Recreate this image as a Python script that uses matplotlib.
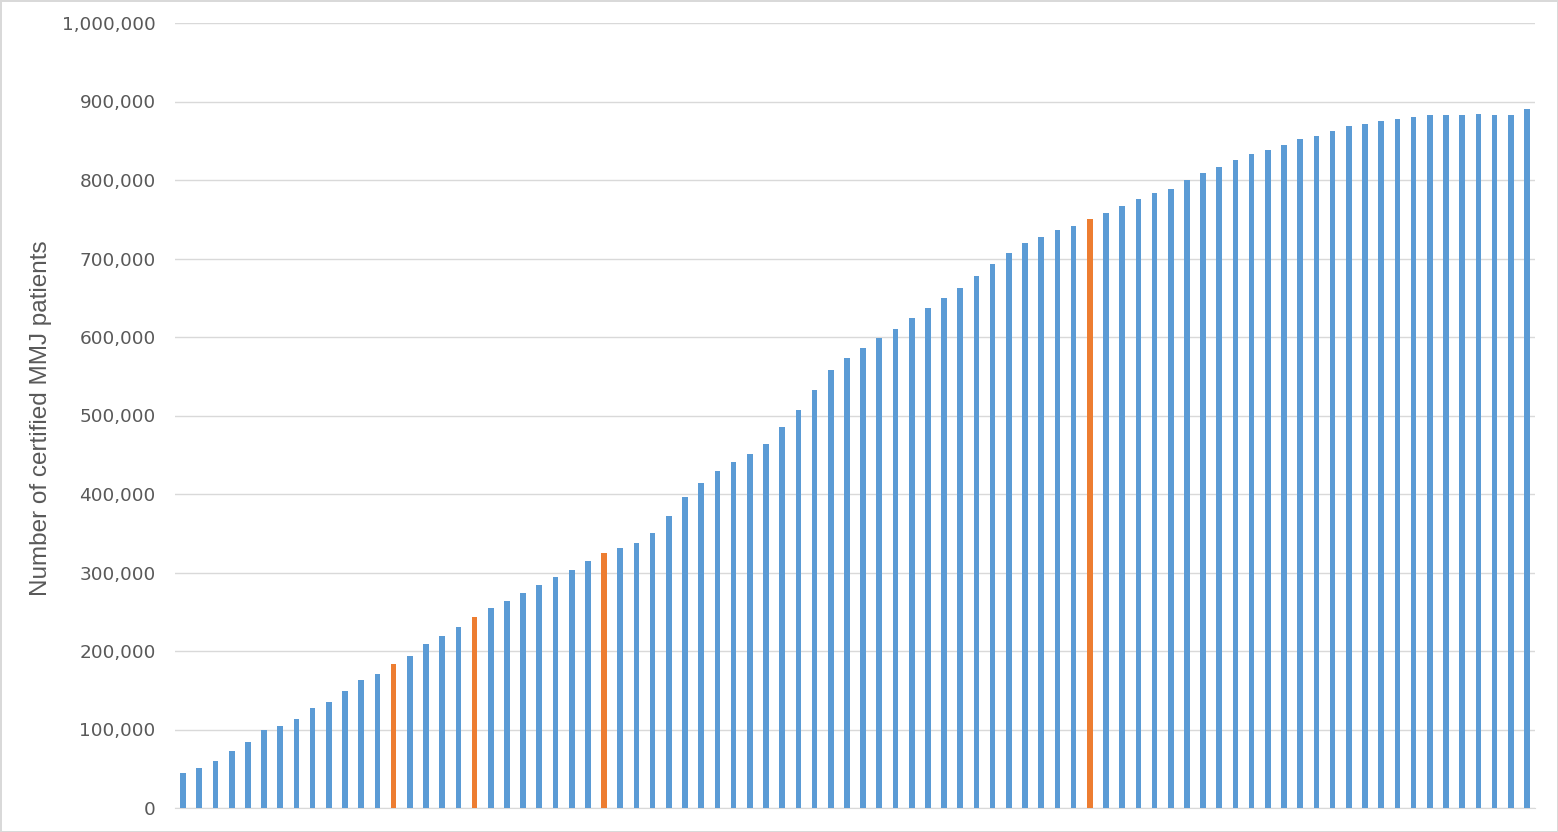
import matplotlib
matplotlib.use("Agg")
import matplotlib.pyplot as plt
from matplotlib.ticker import FuncFormatter

# certified patients per period (thousands)
patients_k = [
    45, 50.5, 60, 72, 84, 99, 104.5, 114, 127, 135.5,
    148.6, 162.6, 170.7, 183, 194, 208.5, 219, 231, 243.3, 254.8,
    264, 274, 283.7, 294.7, 302.8, 314.6, 325.3, 331.6, 338, 350,
    371.6, 395.8, 413.6, 429.7, 441.2, 451, 464, 485.8, 507, 532.5,
    558, 573.6, 586.6, 598.5, 609.8, 623.8, 636.8, 649.7, 662, 678,
    692.6, 706.6, 719.3, 727.8, 735.9, 741.4, 749.9, 758, 766.5, 775.5,
    784, 789, 799.5, 808.3, 816.8, 825.5, 832.7, 838.2, 844.2, 851.8,
    856, 862.4, 868.4, 871.3, 875.2, 877.7, 879.9, 882.4, 882.4, 883.2,
    884.5, 882.4, 883.2, 890.8,
]
highlighted = [13, 18, 26, 56]  # bars drawn in orange

values = [v * 1000 for v in patients_k]
positions = list(range(len(values)))
colors = ["#ED7D31" if i in highlighted else "#5B9BD5" for i in positions]

fig = plt.figure(figsize=(15.58, 8.32), dpi=100)
fig.patch.set_edgecolor("#d9d9d9")
fig.patch.set_linewidth(2)
ax = fig.add_axes([175 / 1558, 1 - 808 / 832, 1360 / 1558, 785 / 832])

ax.bar(positions, values, width=0.35, color=colors, zorder=3)

ax.set_xlim(-0.5, len(values) - 0.5)
ax.set_ylim(0, 1_000_000)
ax.set_yticks(range(0, 1_000_001, 100_000))
ax.yaxis.set_major_formatter(FuncFormatter(lambda v, _: f"{int(v):,}"))
ax.grid(axis="y", color="#d9d9d9", linewidth=1, zorder=0)
ax.set_xticks([])
ax.tick_params(axis="y", length=0, pad=14, labelsize=13.3, labelcolor="#595959")

for side in ["top", "right", "left"]:
    ax.spines[side].set_visible(False)
ax.spines["bottom"].set_color("#d9d9d9")

ax.set_ylabel("Number of certified MMJ patients", fontsize=17.5,
              color="#595959", family="Liberation Sans")
ax.yaxis.set_label_coords(-0.0904, 0.497)

fig.savefig("out.png", dpi=100)
